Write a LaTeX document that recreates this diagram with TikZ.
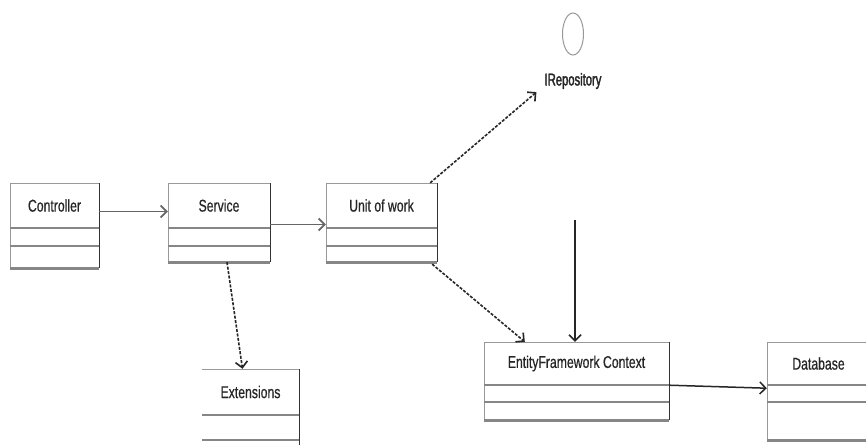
\documentclass[tikz,border=0pt]{standalone}
\usepackage{fontspec}
\setmainfont[FakeStretch=0.72,FakeBold=0.6]{Liberation Sans}
\newfontfamily\irfont[FakeStretch=0.66,FakeBold=2]{Liberation Sans}
\usetikzlibrary{arrows.meta,shapes.geometric}
\tikzset{
  clshead/.style={inner sep=0pt, font=\fontsize{17}{20}\selectfont, text=black!85},
  clsedge/.style={draw=gray!80, line width=1pt},
  clsright/.style={draw=black!80, line width=1pt},
  clsdiv/.style={draw=gray!95, line width=2.2pt},
  clsbottom/.style={draw=gray!95, line width=3pt},
  conn/.style={-{Straight Barb[length=6pt,width=12pt]}, line width=1.8pt, draw=gray!80!black},
  darkconn/.style={-{Straight Barb[length=6pt,width=12pt]}, line width=1.5pt, draw=black!85},
  depconn/.style={-{Straight Barb[length=6pt,width=12pt]}, line width=1.6pt, draw=black!85, dash pattern=on 3pt off 1.5pt}
}
% #1 name, #2 left, #3 right, #4 top, #5 div1, #6 div2, #7 bottom, #8 text, #9 left edge style
\newcommand\umlclassbox[9]{%
  \node[clshead, minimum width={(#3-#2)*1pt}, minimum height={(#5-#4)*1pt}] (#1) at ({(#2+#3)/2},{(#4+#5)/2}) {#8};
  \draw[#9] (#2,#7) -- (#2,#4);
  \draw[clsedge] (#2,#4) -- (#3,#4);
  \draw[clsright] (#3,#4) -- (#3,#7);
  \draw[clsdiv] (#2,#5) -- (#3,#5) (#2,#6) -- (#3,#6);
  \draw[clsbottom] (#2,#7) -- (#3,#7);
}
\begin{document}
\begin{tikzpicture}[x=1pt,y=-1pt]
\useasboundingbox (0,0) rectangle (866,444);
\clip (0,0) rectangle (866,444);
\fill[white] (0,0) rectangle (866,444);

\umlclassbox{ctrl}{10}{99}{183}{228}{246}{268}{Controller}{clsedge}
\umlclassbox{svc}{168}{270}{183}{228}{246}{262}{Service}{clsedge}
\umlclassbox{uow}{326}{437}{183}{228}{246}{262}{Unit of work}{clsedge}
\umlclassbox{ext}{202}{299}{369}{415}{440}{452}{Extensions}{draw=none}
\umlclassbox{efc}{484}{669}{342}{385}{402}{420}{EntityFramework Context}{clsedge}
\umlclassbox{db}{767}{870}{342}{385}{402}{440}{Database}{clsedge}

\node[draw=gray!80, line width=1pt, ellipse, minimum width=21pt, minimum height=42pt, inner sep=0pt] (irepo) at (573,34) {};
\node[clshead, font=\fontsize{17}{20}\irfont] (irlbl) at (573,81) {IRepository};

\coordinate (ctxin) at (575,220);

\draw[conn] ([yshift=-6pt]ctrl.east) -- ([yshift=-6pt]svc.west);
\draw[conn] ([yshift=-19pt]svc.east) -- ([yshift=-19pt]uow.west);
\draw[depconn] ([xshift=8pt,yshift=-34pt]svc.south) -- ([xshift=-8pt]ext.north);
\draw[depconn] ([xshift=-7pt]uow.north east) -- ([xshift=-8pt,yshift=-3pt]irlbl.south west);
\draw[depconn] ([xshift=-5pt,yshift=-36pt]uow.south east) -- ([xshift=41pt]efc.north west);
\draw[darkconn] (ctxin) -- (ctxin |- efc.north);
\draw[darkconn] (efc.south east) -- ([yshift=-3pt]db.south west);
\end{tikzpicture}
\end{document}
